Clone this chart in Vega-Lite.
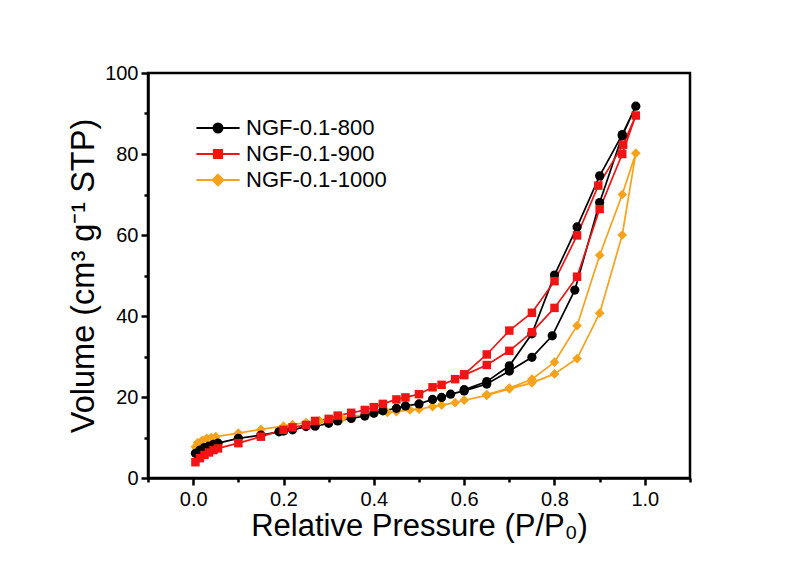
{
  "$schema": "https://vega.github.io/schema/vega-lite/v6.json",
  "width": 542,
  "height": 405,
  "autosize": {"type": "none"},
  "padding": {"left": 148, "top": 73, "right": 96, "bottom": 85},
  "background": "white",
  "config": {
    "font": "Liberation Sans",
    "view": {"stroke": "#000000", "strokeWidth": 2.5},
    "axis": {
      "grid": false,
      "domainColor": "#000000",
      "domainWidth": 2.5,
      "tickColor": "#000000",
      "tickWidth": 2.5,
      "labelColor": "#000000",
      "labelFont": "Liberation Sans",
      "labelFontSize": 20,
      "titleFont": "Liberation Sans",
      "titleFontSize": 31,
      "titleFontWeight": "normal",
      "titleColor": "#000000",
      "labelFlush": false,
      "labelOverlap": false
    }
  },
  "data": {
    "values": [
      {"s": "NGF-0.1-1000", "p": 0.005, "v": 7.7, "o": 1},
      {"s": "NGF-0.1-1000", "p": 0.01, "v": 8.7, "o": 2},
      {"s": "NGF-0.1-1000", "p": 0.02, "v": 9.3, "o": 3},
      {"s": "NGF-0.1-1000", "p": 0.03, "v": 9.8, "o": 4},
      {"s": "NGF-0.1-1000", "p": 0.04, "v": 10.0, "o": 5},
      {"s": "NGF-0.1-1000", "p": 0.05, "v": 10.2, "o": 6},
      {"s": "NGF-0.1-1000", "p": 0.1, "v": 11.1, "o": 7},
      {"s": "NGF-0.1-1000", "p": 0.15, "v": 12.0, "o": 8},
      {"s": "NGF-0.1-1000", "p": 0.2, "v": 12.8, "o": 9},
      {"s": "NGF-0.1-1000", "p": 0.22, "v": 13.2, "o": 10},
      {"s": "NGF-0.1-1000", "p": 0.25, "v": 13.7, "o": 11},
      {"s": "NGF-0.1-1000", "p": 0.28, "v": 14.1, "o": 12},
      {"s": "NGF-0.1-1000", "p": 0.3, "v": 14.4, "o": 13},
      {"s": "NGF-0.1-1000", "p": 0.33, "v": 14.8, "o": 14},
      {"s": "NGF-0.1-1000", "p": 0.35, "v": 15.2, "o": 15},
      {"s": "NGF-0.1-1000", "p": 0.38, "v": 15.6, "o": 16},
      {"s": "NGF-0.1-1000", "p": 0.4, "v": 15.9, "o": 17},
      {"s": "NGF-0.1-1000", "p": 0.43, "v": 16.2, "o": 18},
      {"s": "NGF-0.1-1000", "p": 0.45, "v": 16.4, "o": 19},
      {"s": "NGF-0.1-1000", "p": 0.48, "v": 16.8, "o": 20},
      {"s": "NGF-0.1-1000", "p": 0.5, "v": 17.0, "o": 21},
      {"s": "NGF-0.1-1000", "p": 0.53, "v": 17.6, "o": 22},
      {"s": "NGF-0.1-1000", "p": 0.55, "v": 18.0, "o": 23},
      {"s": "NGF-0.1-1000", "p": 0.58, "v": 18.6, "o": 24},
      {"s": "NGF-0.1-1000", "p": 0.6, "v": 19.2, "o": 25},
      {"s": "NGF-0.1-1000", "p": 0.65, "v": 20.4, "o": 26},
      {"s": "NGF-0.1-1000", "p": 0.7, "v": 22.0, "o": 27},
      {"s": "NGF-0.1-1000", "p": 0.75, "v": 23.5, "o": 28},
      {"s": "NGF-0.1-1000", "p": 0.8, "v": 25.7, "o": 29},
      {"s": "NGF-0.1-1000", "p": 0.85, "v": 29.5, "o": 30},
      {"s": "NGF-0.1-1000", "p": 0.9, "v": 40.7, "o": 31},
      {"s": "NGF-0.1-1000", "p": 0.95, "v": 60.0, "o": 32},
      {"s": "NGF-0.1-1000", "p": 0.98, "v": 80.2, "o": 33},
      {"s": "NGF-0.1-1000", "p": 0.95, "v": 70.0, "o": 34},
      {"s": "NGF-0.1-1000", "p": 0.9, "v": 55.0, "o": 35},
      {"s": "NGF-0.1-1000", "p": 0.85, "v": 37.6, "o": 36},
      {"s": "NGF-0.1-1000", "p": 0.8, "v": 28.6, "o": 37},
      {"s": "NGF-0.1-1000", "p": 0.75, "v": 24.4, "o": 38},
      {"s": "NGF-0.1-1000", "p": 0.7, "v": 22.2, "o": 39},
      {"s": "NGF-0.1-1000", "p": 0.65, "v": 20.6, "o": 40},

      {"s": "NGF-0.1-800", "p": 0.005, "v": 6.1, "o": 1},
      {"s": "NGF-0.1-800", "p": 0.015, "v": 6.9, "o": 2},
      {"s": "NGF-0.1-800", "p": 0.025, "v": 7.5, "o": 3},
      {"s": "NGF-0.1-800", "p": 0.035, "v": 7.9, "o": 4},
      {"s": "NGF-0.1-800", "p": 0.045, "v": 8.3, "o": 5},
      {"s": "NGF-0.1-800", "p": 0.055, "v": 8.6, "o": 6},
      {"s": "NGF-0.1-800", "p": 0.1, "v": 9.8, "o": 7},
      {"s": "NGF-0.1-800", "p": 0.15, "v": 10.6, "o": 8},
      {"s": "NGF-0.1-800", "p": 0.19, "v": 11.4, "o": 9},
      {"s": "NGF-0.1-800", "p": 0.2, "v": 11.6, "o": 10},
      {"s": "NGF-0.1-800", "p": 0.22, "v": 11.9, "o": 11},
      {"s": "NGF-0.1-800", "p": 0.25, "v": 12.7, "o": 12},
      {"s": "NGF-0.1-800", "p": 0.27, "v": 12.8, "o": 13},
      {"s": "NGF-0.1-800", "p": 0.3, "v": 13.5, "o": 14},
      {"s": "NGF-0.1-800", "p": 0.32, "v": 14.1, "o": 15},
      {"s": "NGF-0.1-800", "p": 0.35, "v": 14.7, "o": 16},
      {"s": "NGF-0.1-800", "p": 0.38, "v": 15.3, "o": 17},
      {"s": "NGF-0.1-800", "p": 0.4, "v": 16.0, "o": 18},
      {"s": "NGF-0.1-800", "p": 0.42, "v": 16.6, "o": 19},
      {"s": "NGF-0.1-800", "p": 0.45, "v": 17.2, "o": 20},
      {"s": "NGF-0.1-800", "p": 0.47, "v": 17.8, "o": 21},
      {"s": "NGF-0.1-800", "p": 0.5, "v": 18.3, "o": 22},
      {"s": "NGF-0.1-800", "p": 0.53, "v": 19.4, "o": 23},
      {"s": "NGF-0.1-800", "p": 0.55, "v": 19.9, "o": 24},
      {"s": "NGF-0.1-800", "p": 0.57, "v": 20.7, "o": 25},
      {"s": "NGF-0.1-800", "p": 0.6, "v": 21.5, "o": 26},
      {"s": "NGF-0.1-800", "p": 0.65, "v": 23.2, "o": 27},
      {"s": "NGF-0.1-800", "p": 0.7, "v": 26.4, "o": 28},
      {"s": "NGF-0.1-800", "p": 0.75, "v": 29.8, "o": 29},
      {"s": "NGF-0.1-800", "p": 0.795, "v": 35.1, "o": 30},
      {"s": "NGF-0.1-800", "p": 0.845, "v": 46.4, "o": 31},
      {"s": "NGF-0.1-800", "p": 0.9, "v": 68.0, "o": 32},
      {"s": "NGF-0.1-800", "p": 0.95, "v": 84.5, "o": 33},
      {"s": "NGF-0.1-800", "p": 0.98, "v": 91.8, "o": 34},
      {"s": "NGF-0.1-800", "p": 0.95, "v": 84.8, "o": 35},
      {"s": "NGF-0.1-800", "p": 0.9, "v": 74.6, "o": 36},
      {"s": "NGF-0.1-800", "p": 0.85, "v": 62.0, "o": 37},
      {"s": "NGF-0.1-800", "p": 0.8, "v": 50.1, "o": 38},
      {"s": "NGF-0.1-800", "p": 0.75, "v": 35.6, "o": 39},
      {"s": "NGF-0.1-800", "p": 0.7, "v": 27.7, "o": 40},
      {"s": "NGF-0.1-800", "p": 0.65, "v": 23.8, "o": 41},
      {"s": "NGF-0.1-800", "p": 0.6, "v": 21.8, "o": 42},

      {"s": "NGF-0.1-900", "p": 0.005, "v": 3.9, "o": 1},
      {"s": "NGF-0.1-900", "p": 0.015, "v": 4.9, "o": 2},
      {"s": "NGF-0.1-900", "p": 0.025, "v": 5.7, "o": 3},
      {"s": "NGF-0.1-900", "p": 0.035, "v": 6.3, "o": 4},
      {"s": "NGF-0.1-900", "p": 0.045, "v": 6.9, "o": 5},
      {"s": "NGF-0.1-900", "p": 0.055, "v": 7.3, "o": 6},
      {"s": "NGF-0.1-900", "p": 0.1, "v": 8.6, "o": 7},
      {"s": "NGF-0.1-900", "p": 0.15, "v": 10.2, "o": 8},
      {"s": "NGF-0.1-900", "p": 0.2, "v": 11.9, "o": 9},
      {"s": "NGF-0.1-900", "p": 0.22, "v": 12.5, "o": 10},
      {"s": "NGF-0.1-900", "p": 0.25, "v": 13.1, "o": 11},
      {"s": "NGF-0.1-900", "p": 0.27, "v": 14.1, "o": 12},
      {"s": "NGF-0.1-900", "p": 0.3, "v": 14.6, "o": 13},
      {"s": "NGF-0.1-900", "p": 0.32, "v": 15.4, "o": 14},
      {"s": "NGF-0.1-900", "p": 0.35, "v": 16.1, "o": 15},
      {"s": "NGF-0.1-900", "p": 0.38, "v": 16.8, "o": 16},
      {"s": "NGF-0.1-900", "p": 0.4, "v": 17.5, "o": 17},
      {"s": "NGF-0.1-900", "p": 0.42, "v": 18.3, "o": 18},
      {"s": "NGF-0.1-900", "p": 0.45, "v": 19.4, "o": 19},
      {"s": "NGF-0.1-900", "p": 0.47, "v": 19.9, "o": 20},
      {"s": "NGF-0.1-900", "p": 0.5, "v": 20.7, "o": 21},
      {"s": "NGF-0.1-900", "p": 0.53, "v": 22.4, "o": 22},
      {"s": "NGF-0.1-900", "p": 0.55, "v": 23.0, "o": 23},
      {"s": "NGF-0.1-900", "p": 0.58, "v": 24.4, "o": 24},
      {"s": "NGF-0.1-900", "p": 0.6, "v": 25.4, "o": 25},
      {"s": "NGF-0.1-900", "p": 0.65, "v": 27.9, "o": 26},
      {"s": "NGF-0.1-900", "p": 0.7, "v": 31.4, "o": 27},
      {"s": "NGF-0.1-900", "p": 0.75, "v": 36.0, "o": 28},
      {"s": "NGF-0.1-900", "p": 0.8, "v": 42.0, "o": 29},
      {"s": "NGF-0.1-900", "p": 0.85, "v": 49.7, "o": 30},
      {"s": "NGF-0.1-900", "p": 0.9, "v": 66.4, "o": 31},
      {"s": "NGF-0.1-900", "p": 0.95, "v": 80.0, "o": 32},
      {"s": "NGF-0.1-900", "p": 0.98, "v": 89.5, "o": 33},
      {"s": "NGF-0.1-900", "p": 0.952, "v": 82.3, "o": 34},
      {"s": "NGF-0.1-900", "p": 0.897, "v": 72.2, "o": 35},
      {"s": "NGF-0.1-900", "p": 0.85, "v": 59.9, "o": 36},
      {"s": "NGF-0.1-900", "p": 0.8, "v": 48.6, "o": 37},
      {"s": "NGF-0.1-900", "p": 0.75, "v": 40.8, "o": 38},
      {"s": "NGF-0.1-900", "p": 0.7, "v": 36.4, "o": 39},
      {"s": "NGF-0.1-900", "p": 0.65, "v": 30.5, "o": 40},
      {"s": "NGF-0.1-900", "p": 0.6, "v": 25.6, "o": 41}
    ]
  },
  "encoding": {
    "x": {
      "field": "p",
      "type": "quantitative",
      "scale": {"domain": [-0.1, 1.1], "nice": false, "zero": false},
      "axis": {
        "title": "Relative Pressure (P/P₀)",
        "values": [-0.1, 0, 0.1, 0.2, 0.3, 0.4, 0.5, 0.6, 0.7, 0.8, 0.9, 1.0, 1.1],
        "labelExpr": "abs(round(datum.value*10)) % 2 == 1 ? '' : format(datum.value, '.1f')",
        "tickSize": {"condition": {"test": "abs(round(datum.value*10)) % 2 == 1", "value": 4}, "value": 7},
        "labelPadding": 4,
        "titlePadding": 2
      }
    },
    "y": {
      "field": "v",
      "type": "quantitative",
      "scale": {"domain": [0, 100], "nice": false},
      "axis": {
        "title": "Volume (cm³ g⁻¹ STP)",
        "titleFontSize": 32.5,
        "values": [0, 10, 20, 30, 40, 50, 60, 70, 80, 90, 100],
        "labelExpr": "round(datum.value) % 20 == 0 ? datum.label : ''",
        "tickSize": {"condition": {"test": "round(datum.value) % 20 == 10", "value": 4}, "value": 7},
        "labelPadding": 3,
        "titlePadding": 4
      }
    },
    "color": {
      "field": "s",
      "type": "nominal",
      "scale": {
        "domain": ["NGF-0.1-800", "NGF-0.1-900", "NGF-0.1-1000"],
        "range": ["#000000", "#F01414", "#F7A21B"]
      },
      "legend": {
        "title": null,
        "orient": "none",
        "legendX": 59,
        "legendY": 44,
        "padding": 0,
        "symbolSize": 81,
        "symbolStrokeWidth": 2,
        "labelFont": "Liberation Sans",
        "labelFontSize": 22,
        "labelColor": "#000000",
        "labelOffset": 17,
        "rowPadding": 4,
        "encode": {
          "symbols": {
            "update": {
              "shape": {"signal": "datum.value === 'NGF-0.1-800' ? 'M-4.8,0L4.8,0M-1,0A1,1 0 1,1 1,0A1,1 0 1,1 -1,0Z' : datum.value === 'NGF-0.1-900' ? 'M-4.8,0L4.8,0M-0.9,-0.9L0.9,-0.9L0.9,0.9L-0.9,0.9Z' : 'M-4.8,0L4.8,0M0,-1.2L1.2,0L0,1.2L-1.2,0Z'"},
              "strokeWidth": {"value": 2},
              "opacity": {"value": 1}
            }
          }
        }
      }
    }
  },
  "layer": [
    {
      "mark": {"type": "line", "strokeWidth": 1.7},
      "encoding": {
        "order": {"field": "o", "type": "quantitative"}
      }
    },
    {
      "transform": [{"filter": "datum.s === 'NGF-0.1-1000'"}],
      "mark": {"type": "point", "filled": true, "size": 95, "opacity": 1, "shape": "diamond"}
    },
    {
      "transform": [{"filter": "datum.s === 'NGF-0.1-800'"}],
      "mark": {"type": "point", "filled": true, "size": 85, "opacity": 1, "shape": "circle"}
    },
    {
      "transform": [{"filter": "datum.s === 'NGF-0.1-900'"}],
      "mark": {"type": "point", "filled": true, "size": 72, "opacity": 1, "shape": "square"}
    }
  ]
}
